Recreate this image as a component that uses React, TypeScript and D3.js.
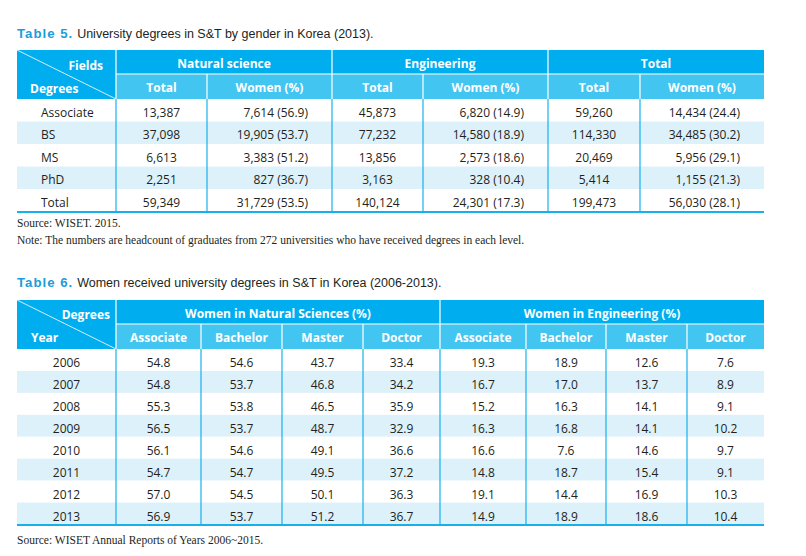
import React from "react";
import * as d3 from "d3";

// ---------- Table 5 data ----------
const t5Title = "University degrees in S&T by gender in Korea (2013).";
const t5Groups = ["Natural science", "Engineering", "Total"];
const t5SubHeads = ["Total", "Women (%)"];
const t5Degrees = ["Associate", "BS", "MS", "PhD", "Total"];
const natTotal = [13387, 37098, 6613, 2251, 59349];
const natWomen = [7614, 19905, 3383, 827, 31729];
const natPct = [56.9, 53.7, 51.2, 36.7, 53.5];
const engTotal = [45873, 77232, 13856, 3163, 140124];
const engWomen = [6820, 14580, 2573, 328, 24301];
const engPct = [14.9, 18.9, 18.6, 10.4, 17.3];
const allTotal = [59260, 114330, 20469, 5414, 199473];
const allWomen = [14434, 34485, 5956, 1155, 56030];
const allPct = [24.4, 30.2, 29.1, 21.3, 28.1];
const t5Source = "Source: WISET. 2015.";
const t5Note =
  "Note: The numbers are headcount of graduates from 272 universities who have received degrees in each level.";

// ---------- Table 6 data ----------
const t6Title = "Women received university degrees in S&T in Korea (2006-2013).";
const t6Groups = ["Women in Natural Sciences (%)", "Women in Engineering (%)"];
const t6SubHeads = ["Associate", "Bachelor", "Master", "Doctor"];
const years = [2006, 2007, 2008, 2009, 2010, 2011, 2012, 2013];
const nsAssoc = [54.8, 54.8, 55.3, 56.5, 56.1, 54.7, 57.0, 56.9];
const nsBach = [54.6, 53.7, 53.8, 53.7, 54.6, 54.7, 54.5, 53.7];
const nsMaster = [43.7, 46.8, 46.5, 48.7, 49.1, 49.5, 50.1, 51.2];
const nsDoctor = [33.4, 34.2, 35.9, 32.9, 36.6, 37.2, 36.3, 36.7];
const enAssoc = [19.3, 16.7, 15.2, 16.3, 16.6, 14.8, 19.1, 14.9];
const enBach = [18.9, 17.0, 16.3, 16.8, 7.6, 18.7, 14.4, 18.9];
const enMaster = [12.6, 13.7, 14.1, 14.1, 14.6, 15.4, 16.9, 18.6];
const enDoctor = [7.6, 8.9, 9.1, 10.2, 9.7, 9.1, 10.3, 10.4];
const t6Source = "Source: WISET Annual Reports of Years 2006~2015.";

const DARK = "#00aeef";
const MID = "#43c5f2";
const BAND = "#ddf1fb";
const BORDER = "#17b0ec";
const TXT = "#231f20";
const SANS = "'Open Sans', 'Noto Sans', sans-serif";
const SERIF = "'Liberation Serif', 'Times New Roman', serif";

const fmtN = d3.format(",");
const fmtP = d3.format(".1f");

function edges(x0: number, widths: number[]) {
  const e = [x0];
  widths.forEach((w) => e.push(e[e.length - 1] + w));
  return e;
}

function Title({ y, num, text }: { y: number; num: string; text: string }) {
  return (
    <text x={17} y={y} fontFamily="'Liberation Sans', Arial, sans-serif" fontSize={12.5} fill={TXT}>
      <tspan fill="#1b9dd9" fontWeight="bold" fontSize={13.2} letterSpacing={1}>{num}</tspan>
      <tspan dx={4}>{text}</tspan>
    </text>
  );
}

function Table5() {
  const colE = edges(17, [99, 91, 125, 91, 125, 92, 124]);
  const top = 50, h1 = 24, h2 = 25;
  const bodyTop = top + h1 + h2;
  const y = d3.scaleBand<string>().domain(t5Degrees).range([bodyTop, 211.5]);
  const rows = t5Degrees.map((d, i) => [
    { v: fmtN(natTotal[i]), a: "c" },
    { v: `${fmtN(natWomen[i])} (${fmtP(natPct[i])})`, a: "r" },
    { v: fmtN(engTotal[i]), a: "c" },
    { v: `${fmtN(engWomen[i])} (${fmtP(engPct[i])})`, a: "r" },
    { v: fmtN(allTotal[i]), a: "c" },
    { v: `${fmtN(allWomen[i])} (${fmtP(allPct[i])})`, a: "r" },
  ]);
  const right = colE[colE.length - 1];
  const ty = (d: string) => y(d)! + y.bandwidth() / 2 + 6.3;
  return (
    <g>
      <Title y={38} num="Table 5." text={t5Title} />
      <rect x={17} y={top} width={right - 17} height={h1} fill={DARK} />
      <rect x={colE[1]} y={top + h1} width={right - colE[1]} height={h2} fill={MID} />
      <rect x={17} y={top + h1} width={colE[1] - 17} height={h2} fill={DARK} />
      {t5Degrees.map((d, i) => (
        <rect key={d} x={17} y={y(d)!} width={right - 17} height={y.bandwidth()} fill={i % 2 === 1 ? BAND : "#fff"} />
      ))}
      <line x1={colE[1]} x2={right} y1={top + h1} y2={top + h1} stroke="#fff" strokeWidth={1.2} />
      {[1, 3, 5].map((k) => (
        <line key={k} x1={colE[k]} x2={colE[k]} y1={top} y2={bodyTop} stroke="#fff" strokeWidth={1.2} />
      ))}
      {[2, 4, 6].map((k) => (
        <line key={k} x1={colE[k]} x2={colE[k]} y1={top + h1} y2={bodyTop} stroke="#fff" strokeWidth={1.2} />
      ))}
      <line x1={17} y1={top} x2={colE[1]} y2={bodyTop} stroke="#e6f7fd" strokeWidth={0.9} />
      <text x={103} y={top + 20} textAnchor="end" fontFamily={SANS} fontWeight="bold" fontSize={12} fill="#fff">Fields</text>
      <text x={30} y={top + 43} fontFamily={SANS} fontWeight="bold" fontSize={12} fill="#fff">Degrees</text>
      {t5Groups.map((g, k) => (
        <text key={g} x={(colE[1 + 2 * k] + colE[3 + 2 * k]) / 2} y={top + 18} textAnchor="middle" fontFamily={SANS} fontWeight="bold" fontSize={12} fill="#fff">{g}</text>
      ))}
      {[0, 1, 2, 3, 4, 5].map((k) => (
        <text key={k} x={(colE[1 + k] + colE[2 + k]) / 2} y={top + h1 + 18} textAnchor="middle" fontFamily={SANS} fontWeight="bold" fontSize={12} fill="#fff">{t5SubHeads[k % 2]}</text>
      ))}
      {colE.slice(1, -1).map((x, k) => (
        <line key={k} x1={x} x2={x} y1={bodyTop} y2={211.5} stroke={BORDER} strokeWidth={1.2} />
      ))}
      <line x1={17} x2={right} y1={212} y2={212} stroke={BORDER} strokeWidth={2} />
      {t5Degrees.map((d, i) => (
        <g key={d} fontFamily={SANS} fontSize={12} fill={TXT}>
          <text x={41} y={ty(d)}>{d}</text>
          {rows[i].map((c, k) => (
            <text
              key={k}
              x={c.a === "c" ? (colE[1 + k] + colE[2 + k]) / 2 : colE[2 + k] - 24}
              y={ty(d)}
              textAnchor={c.a === "c" ? "middle" : "end"}
            >{c.v}</text>
          ))}
        </g>
      ))}
      <text x={17} y={227} fontFamily={SERIF} fontSize={11.5} fill={TXT}>{t5Source}</text>
      <text x={17} y={244} fontFamily={SERIF} fontSize={11.5} fill={TXT}>{t5Note}</text>
    </g>
  );
}

function Table6() {
  const colE = edges(17, [99, 85, 81, 81, 77, 86, 80, 81, 77]);
  const top = 300, h1 = 24, h2 = 25;
  const bodyTop = top + h1 + h2;
  const yKeys = years.map(String);
  const y = d3.scaleBand<string>().domain(yKeys).range([bodyTop, 524.5]);
  const cols = [nsAssoc, nsBach, nsMaster, nsDoctor, enAssoc, enBach, enMaster, enDoctor];
  const right = colE[colE.length - 1];
  const ty = (d: string) => y(d)! + y.bandwidth() / 2 + 7;
  return (
    <g>
      <Title y={287} num="Table 6." text={t6Title} />
      <rect x={17} y={top} width={right - 17} height={h1} fill={DARK} />
      <rect x={colE[1]} y={top + h1} width={right - colE[1]} height={h2} fill={MID} />
      <rect x={17} y={top + h1} width={colE[1] - 17} height={h2} fill={DARK} />
      {yKeys.map((d, i) => (
        <rect key={d} x={17} y={y(d)!} width={right - 17} height={y.bandwidth()} fill={i % 2 === 1 ? BAND : "#fff"} />
      ))}
      <line x1={colE[1]} x2={right} y1={top + h1} y2={top + h1} stroke="#fff" strokeWidth={1.2} />
      {[1, 5].map((k) => (
        <line key={k} x1={colE[k]} x2={colE[k]} y1={top} y2={bodyTop} stroke="#fff" strokeWidth={1.2} />
      ))}
      {[2, 3, 4, 6, 7, 8].map((k) => (
        <line key={k} x1={colE[k]} x2={colE[k]} y1={top + h1} y2={bodyTop} stroke="#fff" strokeWidth={1.2} />
      ))}
      <line x1={17} y1={top} x2={colE[1]} y2={bodyTop} stroke="#e6f7fd" strokeWidth={0.9} />
      <text x={110} y={top + 19} textAnchor="end" fontFamily={SANS} fontWeight="bold" fontSize={12} fill="#fff">Degrees</text>
      <text x={31} y={top + 42} fontFamily={SANS} fontWeight="bold" fontSize={12} fill="#fff">Year</text>
      {t6Groups.map((g, k) => (
        <text key={g} x={(colE[1 + 4 * k] + colE[5 + 4 * k]) / 2} y={top + 18} textAnchor="middle" fontFamily={SANS} fontWeight="bold" fontSize={12} fill="#fff">{g}</text>
      ))}
      {cols.map((_, k) => (
        <text key={k} x={(colE[1 + k] + colE[2 + k]) / 2} y={top + h1 + 18} textAnchor="middle" fontFamily={SANS} fontWeight="bold" fontSize={12} fill="#fff">{t6SubHeads[k % 4]}</text>
      ))}
      {colE.slice(1, -1).map((x, k) => (
        <line key={k} x1={x} x2={x} y1={bodyTop} y2={524.5} stroke={BORDER} strokeWidth={1.2} />
      ))}
      <line x1={17} x2={right} y1={525} y2={525} stroke={BORDER} strokeWidth={2} />
      {yKeys.map((d, i) => (
        <g key={d} fontFamily={SANS} fontSize={12} fill={TXT} textAnchor="middle">
          <text x={(colE[0] + colE[1]) / 2} y={ty(d)}>{d}</text>
          {cols.map((c, k) => (
            <text key={k} x={(colE[1 + k] + colE[2 + k]) / 2} y={ty(d)}>{fmtP(c[i])}</text>
          ))}
        </g>
      ))}
      <text x={17} y={544} fontFamily={SERIF} fontSize={11.5} fill={TXT}>{t6Source}</text>
    </g>
  );
}

export default function App() {
  return (
    <svg width={806} height={556} style={{ position: "absolute", left: 0, top: 0, background: "#fff" }}>
      <rect width={806} height={556} fill="#fff" />
      <Table5 />
      <Table6 />
    </svg>
  );
}
